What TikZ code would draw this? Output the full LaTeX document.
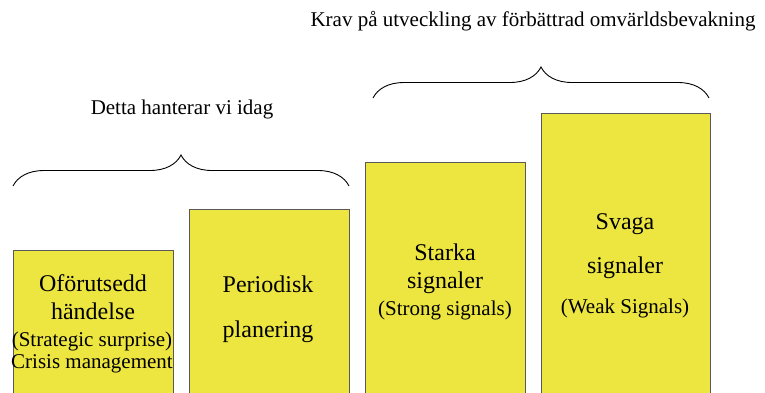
\documentclass[tikz,border=0pt]{standalone}
\usepackage{fontspec}
\setmainfont{Liberation Serif}
\usetikzlibrary{decorations.pathreplacing}
\definecolor{barfill}{RGB}{237,230,64}
\tikzstyle{colbox} = [rectangle, anchor=north west, inner sep=0pt, minimum width=160pt, minimum height=320pt, draw=black!65, line width=1pt, fill=barfill]
\tikzstyle{head} = [anchor=base, inner sep=0pt, font=\fontsize{24}{28}\selectfont]
\tikzstyle{subhead} = [anchor=base, inner sep=0pt, font=\fontsize{21}{25}\selectfont]
\tikzstyle{curly} = [decorate, decoration={brace, amplitude=31pt}, line width=0.9pt]

\begin{document}
\begin{tikzpicture}[x=1pt, y=-1pt]
\useasboundingbox (0,0) rectangle (765,392);
\clip (0,0) rectangle (765,392);

% the four columns, cut off at the bottom
\node (b1) [colbox] at (13,250) {};
\node (b2) [colbox] at (189,209) {};
\node (b3) [colbox] at (365,162) {};
\node (b4) [colbox, minimum width=169pt] at (541,113) {};

% column texts
\node (t1a) [head] at (93,291) {Oförutsedd};
\node (t1b) [head] at (93,319) {händelse};
\node (t1c) [subhead] at (92,346) {(Strategic surprise)};
\node (t1d) [subhead] at (92,368) {Crisis management};

\node (t2a) [head] at (268,292) {Periodisk};
\node (t2b) [head] at (268,337) {planering};

\node (t3a) [head] at (445,260) {Starka};
\node (t3b) [head] at (445,288) {signaler};
\node (t3c) [subhead] at (445,315) {(Strong signals)};

\node (t4a) [head] at (625,229) {Svaga};
\node (t4b) [head] at (625,273) {signaler};
\node (t4c) [subhead] at (625,313) {(Weak Signals)};

% braces and what they stand for
\coordinate (c1l) at (13,186);
\coordinate (c1r) at (349,186);
\coordinate (c2l) at (373,98);
\coordinate (c2r) at (709,98);
\draw [curly] (c1l) -- (c1r);
\draw [curly] (c2l) -- (c2r);

\node (today) [subhead] at (182,114) {Detta hanterar vi idag};
\node (krav) [subhead] at (533,26) {Krav på utveckling av förbättrad omvärldsbevakning};
\end{tikzpicture}
\end{document}
